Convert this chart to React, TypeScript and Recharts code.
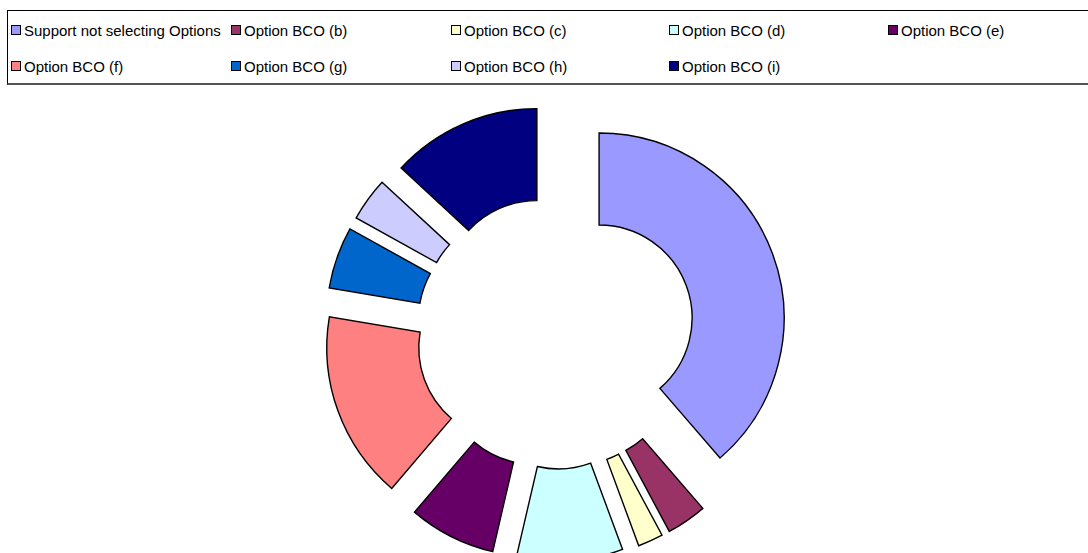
import React from "react";
import { PieChart, Pie, Cell } from "recharts";

// Response categories, in clockwise order from 12 o'clock
const categories: string[] = [
  "Support not selecting Options",
  "Option BCO (b)",
  "Option BCO (c)",
  "Option BCO (d)",
  "Option BCO (e)",
  "Option BCO (f)",
  "Option BCO (g)",
  "Option BCO (h)",
  "Option BCO (i)",
];

// Share of responses (%)
const shares: number[] = [38.6, 3.5, 2.2, 9.25, 7.6, 16.4, 5.4, 3.8, 13.1];

// Slice fills
const colors: string[] = [
  "#9999FF",
  "#993366",
  "#FFFFCC",
  "#CCFFFF",
  "#660066",
  "#FF8080",
  "#0066CC",
  "#CCCCFF",
  "#000080",
];

const data = categories.map((name, i) => ({ name, value: shares[i] }));

// Geometry of the exploded doughnut
const CX = 555.5;
const CY = 333;
const OUTER_R = 185;
const INNER_R = 93;
const EXPLODE_X = 46.5;
const EXPLODE_Y = 43;

// Each slice is pushed outward along its own mid-angle
const total = shares.reduce((a, b) => a + b, 0);
const sliceOffsets = (() => {
  let acc = 0;
  return shares.map((v) => {
    const mid = ((acc + v / 2) / total) * Math.PI * 2;
    acc += v;
    return { dx: EXPLODE_X * Math.sin(mid), dy: -EXPLODE_Y * Math.cos(mid) };
  });
})();

const LEGEND_COL_X = [11, 231, 451, 669, 888];
const LEGEND_ROW_Y = [25, 61];

function LegendBox() {
  return (
    <div
      style={{
        position: "absolute",
        left: 7,
        top: 10,
        width: 1100,
        height: 75,
        border: "1px solid #000",
        borderBottom: "2px solid #555",
        boxSizing: "border-box",
        background: "#fff",
      }}
    >
      {categories.map((name, i) => {
        const col = i % 5;
        const row = Math.floor(i / 5);
        return (
          <div
            key={name}
            style={{
              position: "absolute",
              left: LEGEND_COL_X[col] - 8,
              top: LEGEND_ROW_Y[row] - 11,
              height: 10,
              display: "flex",
              alignItems: "center",
              whiteSpace: "nowrap",
            }}
          >
            <div
              style={{
                width: 8,
                height: 8,
                border: "1px solid #000",
                background: colors[i],
                marginRight: 3,
              }}
            />
            <span
              style={{
                fontFamily: '"Liberation Sans", Arial, sans-serif',
                fontSize: 15,
                lineHeight: "17px",
                color: "#000",
              }}
            >
              {name}
            </span>
          </div>
        );
      })}
    </div>
  );
}

export default function App() {
  return (
    <div
      style={{
        position: "absolute",
        left: 0,
        top: 0,
        width: 1088,
        height: 553,
        overflow: "hidden",
        background: "#fff",
      }}
    >
      <PieChart
        width={1088}
        height={553}
        margin={{ top: 0, right: 0, bottom: 0, left: 0 }}
      >
        {data.map((entry, i) => (
          <Pie
            key={entry.name}
            data={data}
            dataKey="value"
            nameKey="name"
            cx={CX + sliceOffsets[i].dx}
            cy={CY + sliceOffsets[i].dy}
            innerRadius={INNER_R}
            outerRadius={OUTER_R}
            startAngle={90}
            endAngle={-270}
            stroke="none"
            legendType="none"
            isAnimationActive={false}
          >
            {data.map((d, j) => (
              <Cell
                key={d.name}
                fill={j === i ? colors[j] : "none"}
                stroke={j === i ? "#000" : "none"}
                strokeWidth={j === i ? 1.4 : 0}
              />
            ))}
          </Pie>
        ))}
      </PieChart>
      <LegendBox />
    </div>
  );
}
